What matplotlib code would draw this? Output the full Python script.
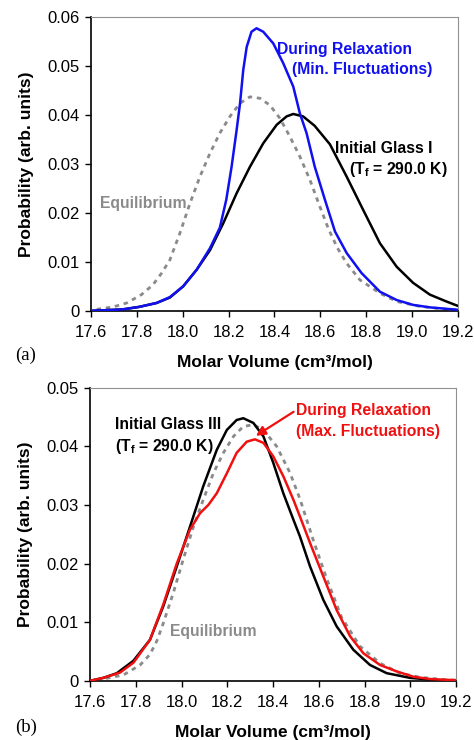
import matplotlib
matplotlib.use("Agg")
import matplotlib.pyplot as plt

plt.rcParams['font.family'] = ['Liberation Sans', 'DejaVu Sans']
plt.rcParams['mathtext.fontset'] = 'custom'
plt.rcParams['mathtext.rm'] = 'Liberation Sans'
plt.rcParams['mathtext.bf'] = 'Liberation Sans:bold'

# ---------------- Panel (a) data ----------------
a_glass_x = [17.60, 17.70, 17.74, 17.81, 17.886, 17.944, 18.002, 18.061, 18.119, 18.177,
             18.235, 18.293, 18.351, 18.41, 18.453, 18.482, 18.525, 18.575, 18.642, 18.715,
             18.787, 18.86, 18.933, 19.005, 19.078, 19.15, 19.20]
a_glass_y = [0.0, 0.0002, 0.0003, 0.0008, 0.0016, 0.0027, 0.0050, 0.0084, 0.0124, 0.0179,
             0.0240, 0.0294, 0.0342, 0.0380, 0.0397, 0.0402, 0.0397, 0.0378, 0.0340, 0.0274,
             0.0206, 0.0138, 0.0090, 0.0057, 0.0033, 0.0019, 0.0010]

a_relax_x = [17.60, 17.70, 17.74, 17.81, 17.886, 17.944, 18.002, 18.061, 18.119, 18.162,
             18.19, 18.213, 18.235, 18.25, 18.264, 18.279, 18.30, 18.322, 18.351, 18.395,
             18.438, 18.482, 18.511, 18.54, 18.576, 18.62, 18.664, 18.715, 18.78, 18.86,
             18.933, 19.005, 19.078, 19.20]
a_relax_y = [0.0, 0.0002, 0.0003, 0.0008, 0.0016, 0.0028, 0.0050, 0.0084, 0.0128, 0.0170,
             0.0227, 0.0294, 0.0369, 0.0424, 0.0492, 0.0539, 0.0570, 0.0577, 0.0570, 0.0546,
             0.0506, 0.0458, 0.0403, 0.0363, 0.0294, 0.0227, 0.0162, 0.0118, 0.0077, 0.0039,
             0.0022, 0.0012, 0.0007, 0.0002]

a_eq_x = [17.625, 17.697, 17.756, 17.82, 17.87, 17.908, 17.944, 17.988, 18.032, 18.075,
          18.119, 18.162, 18.206, 18.25, 18.293, 18.337, 18.38, 18.424, 18.467, 18.511,
          18.555, 18.598, 18.635, 18.675, 18.715, 18.773, 18.86, 18.933, 19.034, 19.15, 19.20]
a_eq_y = [0.0003, 0.0008, 0.0016, 0.0033, 0.0053, 0.0077, 0.0104, 0.0159, 0.0220, 0.0274,
          0.0322, 0.0363, 0.0397, 0.0424, 0.0437, 0.0434, 0.0420, 0.0393, 0.0356, 0.0315,
          0.0267, 0.0213, 0.0168, 0.0128, 0.0097, 0.0063, 0.0036, 0.0019, 0.0009, 0.0003, 0.0002]

# ---------------- Panel (b) data ----------------
b_glass_x = [17.60, 17.658, 17.717, 17.789, 17.862, 17.92, 17.979, 18.037, 18.095, 18.154,
             18.198, 18.241, 18.27, 18.314, 18.358, 18.401, 18.445, 18.489, 18.518, 18.562,
             18.62, 18.678, 18.751, 18.824, 18.897, 18.999, 19.12, 19.20]
b_glass_y = [0.0, 0.0005, 0.0013, 0.0034, 0.0070, 0.0127, 0.0195, 0.0263, 0.0332, 0.0394,
             0.0428, 0.0445, 0.0448, 0.0440, 0.0417, 0.0372, 0.0320, 0.0275, 0.0246, 0.0195,
             0.0138, 0.0093, 0.0053, 0.0027, 0.0013, 0.0005, 0.0001, 0.0]

b_relax_x = [17.60, 17.658, 17.731, 17.79, 17.862, 17.92, 17.979, 18.037, 18.081, 18.117,
             18.154, 18.198, 18.241, 18.285, 18.321, 18.358, 18.401, 18.445, 18.489, 18.518,
             18.562, 18.62, 18.678, 18.737, 18.795, 18.868, 18.941, 19.013, 19.086, 19.20]
b_relax_y = [0.0, 0.0005, 0.0014, 0.0031, 0.0070, 0.0130, 0.0200, 0.0258, 0.0286, 0.0300,
             0.0320, 0.0354, 0.0389, 0.0408, 0.0412, 0.0406, 0.0383, 0.0349, 0.0309, 0.0280,
             0.0235, 0.0178, 0.0121, 0.0076, 0.0047, 0.0027, 0.0016, 0.0007, 0.0003, 0.0001]

b_eq_x = [17.67, 17.746, 17.819, 17.862, 17.892, 17.92, 17.964, 18.008, 18.052, 18.095,
          18.139, 18.183, 18.227, 18.27, 18.314, 18.358, 18.416, 18.474, 18.518, 18.576,
          18.634, 18.70, 18.78, 18.868, 18.955, 19.043, 19.15, 19.20]
b_eq_y = [0.0004, 0.0010, 0.0027, 0.0045, 0.0068, 0.0098, 0.0150, 0.0208, 0.0263, 0.0309,
          0.0354, 0.0389, 0.0417, 0.0434, 0.0437, 0.0428, 0.0400, 0.0355, 0.0310, 0.0240,
          0.0175, 0.0108, 0.0059, 0.0030, 0.0013, 0.0006, 0.0002, 0.0001]

x_ticks = [17.6, 17.8, 18.0, 18.2, 18.4, 18.6, 18.8, 19.0, 19.2]
x_ticklabels = ['17.6', '17.8', '18.0', '18.2', '18.4', '18.6', '18.8', '19.0', '19.2']
a_yticks = [0, 0.01, 0.02, 0.03, 0.04, 0.05, 0.06]
a_yticklabels = ['0', '0.01', '0.02', '0.03', '0.04', '0.05', '0.06']
b_yticks = [0, 0.01, 0.02, 0.03, 0.04, 0.05]
b_yticklabels = ['0', '0.01', '0.02', '0.03', '0.04', '0.05']

BLUE = '#1010f0'
RED = '#f01010'
GRAY = '#8a8a8a'
FS_T = 11.3

fig = plt.figure(figsize=(4.74, 7.40), dpi=100)
ax1 = fig.add_axes([0.192, 0.580, 0.774, 0.397])
ax2 = fig.add_axes([0.190, 0.080, 0.772, 0.396])


def style(ax, yticks, yticklabels, ymax):
    ax.set_xlim(17.6, 19.2)
    ax.set_ylim(0, ymax)
    ax.set_xticks(x_ticks)
    ax.set_xticklabels(x_ticklabels)
    ax.set_yticks(yticks)
    ax.set_yticklabels(yticklabels)
    ax.tick_params(direction='out', length=4, width=1, labelsize=12, colors='black')
    ax.tick_params(axis='x', pad=6)
    ax.tick_params(axis='y', pad=4)
    for s in ['top', 'right']:
        ax.spines[s].set_color('#909090')
        ax.spines[s].set_linewidth(0.8)
    for s in ['left', 'bottom']:
        ax.spines[s].set_color('black')
        ax.spines[s].set_linewidth(1.2)
    ax.set_xlabel('Molar Volume (cm³/mol)', fontsize=12.5, fontweight='bold', labelpad=11)
    ax.set_ylabel('Probability (arb. units)', fontsize=12.5, fontweight='bold', labelpad=10)


line_kw = dict(solid_joinstyle='round', solid_capstyle='round')
dash = (0, (1.6, 1.7))

# Panel (a)
ax1.plot(a_eq_x, a_eq_y, color=GRAY, lw=2.0, linestyle=dash, zorder=2)
ax1.plot(a_glass_x, a_glass_y, color='black', lw=1.8, zorder=3, **line_kw)
ax1.plot(a_relax_x, a_relax_y, color=BLUE, lw=1.8, zorder=4, **line_kw)
style(ax1, a_yticks, a_yticklabels, 0.06)
ax1.text(18.41, 0.0533, 'During Relaxation', color=BLUE, fontsize=FS_T, fontweight='bold', va='center')
ax1.text(18.475, 0.0492, '(Min. Fluctuations)', color=BLUE, fontsize=FS_T, fontweight='bold', va='center')
ax1.text(18.665, 0.0332, 'Initial Glass I', color='black', fontsize=FS_T, fontweight='bold', va='center')
ax1.text(18.723, 0.0288, r'(T$_\mathbf{f}$ = 290.0 K)', color='black', fontsize=FS_T, fontweight='bold', va='center')
ax1.text(17.64, 0.0220, 'Equilibrium', color=GRAY, fontsize=FS_T, fontweight='bold', va='center')

# Panel (b)
ax2.plot(b_eq_x, b_eq_y, color=GRAY, lw=2.0, linestyle=dash, zorder=2)
ax2.plot(b_glass_x, b_glass_y, color='black', lw=1.8, zorder=3, **line_kw)
ax2.plot(b_relax_x, b_relax_y, color=RED, lw=1.8, zorder=4, **line_kw)
style(ax2, b_yticks, b_yticklabels, 0.05)
ax2.text(17.708, 0.0437, 'Initial Glass III', color='black', fontsize=FS_T, fontweight='bold', va='center')
ax2.text(17.708, 0.0400, r'(T$_\mathbf{f}$ = 290.0 K)', color='black', fontsize=FS_T, fontweight='bold', va='center')
ax2.text(18.50, 0.0461, 'During Relaxation', color=RED, fontsize=FS_T, fontweight='bold', va='center')
ax2.text(18.50, 0.0426, '(Max. Fluctuations)', color=RED, fontsize=FS_T, fontweight='bold', va='center')
ax2.text(17.95, 0.0084, 'Equilibrium', color=GRAY, fontsize=FS_T, fontweight='bold', va='center')
ax2.annotate('', xy=(18.325, 0.0418), xytext=(18.49, 0.0459),
             arrowprops=dict(arrowstyle='-|>', color=RED, lw=1.6, mutation_scale=14,
                             shrinkA=0, shrinkB=0))

fig.text(0.032, 0.520, '(a)', fontsize=13.5, family='Liberation Serif', va='center')
fig.text(0.032, 0.017, '(b)', fontsize=13.5, family='Liberation Serif', va='center')

fig.savefig('out.png', dpi=100)
